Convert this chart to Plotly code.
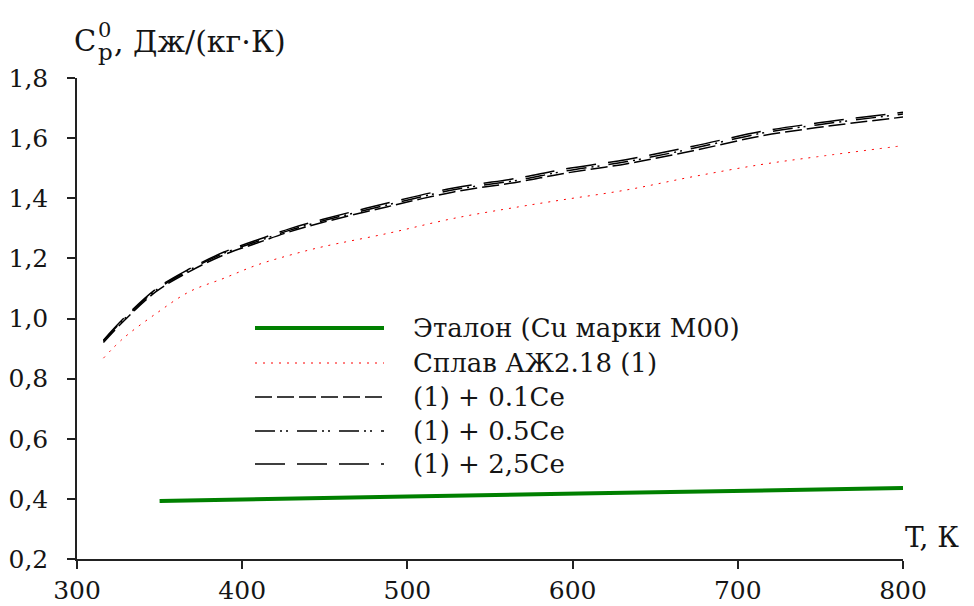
import plotly.graph_objects as go

# ---- data ----
T_alloy = [316, 328, 348, 368, 389, 409, 429, 449, 488, 528, 568, 593, 633, 673, 714, 748, 800]
cp_base = [0.868, 0.934, 1.017, 1.089, 1.134, 1.178, 1.211, 1.239, 1.283, 1.333, 1.372, 1.394, 1.428, 1.472, 1.512, 1.538, 1.575]
cp_01ce = [0.920, 0.990, 1.090, 1.156, 1.212, 1.251, 1.289, 1.320, 1.372, 1.421, 1.455, 1.481, 1.515, 1.558, 1.607, 1.635, 1.670]
cp_05ce = [0.925, 0.995, 1.095, 1.161, 1.217, 1.256, 1.294, 1.325, 1.378, 1.428, 1.461, 1.488, 1.522, 1.566, 1.616, 1.644, 1.680]
cp_25ce = [0.928, 0.999, 1.099, 1.165, 1.221, 1.261, 1.299, 1.330, 1.384, 1.434, 1.468, 1.495, 1.529, 1.573, 1.622, 1.650, 1.686]
T_ref = [350, 500, 650, 800]
cp_ref = [0.393, 0.408, 0.422, 0.436]

names = ["Эталон (Cu марки М00)", "Сплав АЖ2.18 (1)", "(1) + 0.1Ce", "(1) + 0.5Ce", "(1) + 2,5Ce"]
x_ticks = [300, 400, 500, 600, 700, 800]
y_ticks = [0.2, 0.4, 0.6, 0.8, 1.0, 1.2, 1.4, 1.6, 1.8]

FONT = "DejaVu Serif"
TXT = "#151515"
styles = [
    dict(color="#008000", width=4, dash="solid"),
    dict(color="#ff0000", width=1, dash="2px,6px"),
    dict(color="black", width=1.5, dash="17px,5px"),
    dict(color="black", width=1.5, dash="20px,5px,2px,4px,2px,9px"),
    dict(color="black", width=1.5, dash="30px,12px"),
]

# page body has an 8px margin: lay the figure out in screen pixels
OFF = 8
L, R, TOP, BOT = 77, 903, 78, 559          # plot area in screen pixels
W, H = 974 - OFF, 606 - OFF

fig = go.Figure()
series = [(T_ref, cp_ref), (T_alloy, cp_base), (T_alloy, cp_01ce), (T_alloy, cp_05ce), (T_alloy, cp_25ce)]
for (xs, ys), nm, st in zip(series, names, styles):
    fig.add_trace(go.Scatter(x=xs, y=ys, mode="lines", name=nm, line=st,
                             line_shape="spline", showlegend=False))

def px(x): return (x - L) / (R - L)
def py(y): return (BOT - y) / (BOT - TOP)

# manual legend (long samples like the reference)
leg_y = [328, 363, 397, 431, 464]
for yy, nm, st in zip(leg_y, names, styles):
    fig.add_shape(type="line", xref="paper", yref="paper",
                  x0=px(255), x1=px(384), y0=py(yy), y1=py(yy), line=st)
    fig.add_annotation(xref="paper", yref="paper", x=px(411), y=py(yy),
                       xanchor="left", yanchor="middle", text=nm, showarrow=False,
                       font=dict(family=FONT, size=26, color=TXT))

# axis titles
def note(x, y, text, size):
    fig.add_annotation(xref="paper", yref="paper", x=px(x), y=py(y), xanchor="left",
                       yanchor="middle", showarrow=False, text=text,
                       font=dict(family=FONT, size=size, color=TXT))
note(72, 41, "C", 29)
note(96, 30, "0", 21)
note(96, 52, "p", 23)
note(112, 41, ", Дж/(кг·К)", 30)
note(903, 537, "T, К", 28)

fig.update_layout(
    width=W, height=H,
    margin=dict(l=L - OFF, r=W - (R - OFF), t=TOP - OFF, b=H - (BOT - OFF), pad=0),
    paper_bgcolor="white", plot_bgcolor="white",
    separators=", ",
    font=dict(family=FONT, size=25, color=TXT),
    showlegend=False,
)
fig.update_xaxes(range=[300, 800], tickvals=x_ticks, showgrid=False, zeroline=False,
                 showline=True, linecolor="#222", linewidth=1.5, automargin=False,
                 ticks="outside", ticklen=8, tickcolor="#222", tickwidth=1.5)
fig.update_yaxes(range=[0.2, 1.8], tickvals=y_ticks, tickformat=".1f", showgrid=False,
                 zeroline=False, showline=True, linecolor="#222", linewidth=1.5,
                 ticks="outside", ticklen=8, tickcolor="#222", tickwidth=1.5,
                 ticklabelstandoff=14, automargin=False)

fig.write_html("out.html")
